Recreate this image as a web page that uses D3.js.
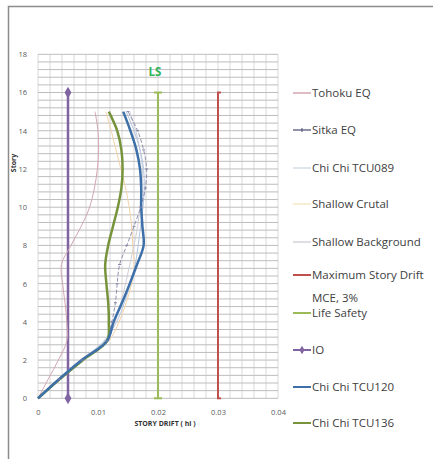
<!DOCTYPE html>
<html><head><meta charset="utf-8">
<script src="https://cdn.jsdelivr.net/npm/d3@7"></script>
<style>body{margin:0;background:#fff;} svg{display:block;}</style>
</head><body>
<svg id="c" width="433" height="459"></svg>
<script>
const stories = [0,1,2,3,4,5,6,7,8,9,10,11,12,13,14,15];
const tohoku   = [0,0.0017,0.0034,0.0048,0.0048,0.0045,0.0041,0.0039,0.0055,0.0072,0.0086,0.0094,0.0099,0.0101,0.0100,0.0095];
const sitka    = [0,0.0035,0.0074,0.0114,0.0123,0.0129,0.0132,0.0136,0.0148,0.0160,0.0171,0.0179,0.0181,0.0176,0.0166,0.0150];
const tcu089   = [0,0.0035,0.0072,0.0110,0.0131,0.0144,0.0154,0.0162,0.0167,0.0171,0.0175,0.0177,0.0176,0.0170,0.0160,0.0147];
const crustal  = [0,0.0036,0.0075,0.0118,0.0135,0.0147,0.0156,0.0160,0.0158,0.0156,0.0152,0.0146,0.0138,0.0130,0.0122,0.0113];
const backgr   = [0,0.0034,0.0070,0.0112,0.0128,0.0138,0.0146,0.0153,0.0160,0.0166,0.0170,0.0173,0.0174,0.0170,0.0163,0.0153];
const tcu120   = [0,0.0035,0.0073,0.0115,0.0126,0.0140,0.0153,0.0165,0.0176,0.0174,0.0172,0.0172,0.0170,0.0164,0.0154,0.0142];
const tcu136   = [0,0.0036,0.0075,0.0115,0.0118,0.0117,0.0114,0.0112,0.0117,0.0125,0.0133,0.0139,0.0141,0.0139,0.0132,0.0118];
const limitStories = [0,16];
const maxDrift = 0.03, lifeSafety = 0.02, ioLimit = 0.005;
const xTicks = [0,0.01,0.02,0.03,0.04];
const yTicks = [0,2,4,6,8,10,12,14,16,18];
const legendLabels = ["Tohoku EQ","Sitka EQ","Chi Chi TCU089","Shallow Crutal","Shallow Background","Maximum Story Drift|MCE, 3%","Life Safety","IO","Chi Chi TCU120","Chi Chi TCU136"];

const svg = d3.select("#c");
const x = d3.scaleLinear().domain([0,0.04]).range([38,278]);
const y = d3.scaleLinear().domain([0,18]).range([398.3,54.3]);
const font = "'Open Sans', sans-serif";

// outer border
svg.append("path").attr("d","M8.5,459 L8.5,6.5 L433,6.5").attr("fill","none").attr("stroke","#8c8c8c").attr("stroke-width",1.5);

// grid
const g = svg.append("g");
g.selectAll("line.v").data(d3.range(0,0.04001,0.002)).join("line")
 .attr("x1",d=>x(d)).attr("x2",d=>x(d)).attr("y1",y(0)).attr("y2",y(18))
 .attr("stroke","#d9d9d9").attr("stroke-width",1);
g.selectAll("line.h").data(d3.range(0,18.001,0.4)).join("line")
 .attr("x1",x(0)).attr("x2",x(0.04)).attr("y1",d=>y(d)).attr("y2",d=>y(d))
 .attr("stroke","#bdbdbd").attr("stroke-width",1);

// axes labels
const xa = d3.axisBottom(x).tickValues(xTicks).tickSize(0).tickFormat(d=>d===0?"0":d3.format(".2f")(d));
svg.append("g").attr("transform",`translate(0,${y(0)+8})`).call(xa)
 .call(s=>s.select(".domain").remove())
 .call(s=>s.selectAll("text").attr("font-family",font).attr("font-size",7.5).attr("fill","#595959"));
const ya = d3.axisLeft(y).tickValues(yTicks).tickSize(0).tickPadding(11);
svg.append("g").attr("transform",`translate(${x(0)},0)`).call(ya)
 .call(s=>s.select(".domain").remove())
 .call(s=>s.selectAll("text").attr("font-family",font).attr("font-size",7.5).attr("fill","#595959"));

svg.append("text").attr("x",165).attr("y",426).attr("text-anchor","middle")
 .attr("font-family",font).attr("font-size",7).attr("font-weight","bold").attr("fill","#333").text("STORY DRIFT ( hi )");
svg.append("text").attr("transform","translate(16,163) rotate(-90)").attr("text-anchor","middle")
 .attr("font-family",font).attr("font-size",7).attr("font-weight","bold").attr("fill","#333").text("Story");

// LS label
svg.append("text").attr("x",x(0.0195)).attr("y",y(17.1)+4).attr("text-anchor","middle")
 .attr("font-family",font).attr("font-size",11.5).attr("font-weight","bold").attr("fill","#2fb45a").text("LS");

// limit lines
const vline = (val,color,w)=>svg.append("line").attr("x1",x(val)).attr("x2",x(val))
 .attr("y1",y(limitStories[0])).attr("y2",y(limitStories[1])).attr("stroke",color).attr("stroke-width",w);
vline(maxDrift,"#c0504d",2);
limitStories.forEach(s=>svg.append("line").attr("x1",x(maxDrift)-1).attr("x2",x(maxDrift)+3).attr("y1",y(s)).attr("y2",y(s)).attr("stroke","#c0504d").attr("stroke-width",2));
vline(lifeSafety,"#9bbb59",2);
limitStories.forEach(s=>svg.append("line").attr("x1",x(lifeSafety)-4).attr("x2",x(lifeSafety)+4).attr("y1",y(s)).attr("y2",y(s)).attr("stroke","#9bbb59").attr("stroke-width",2));
vline(ioLimit,"#8064a2",2.5);
limitStories.forEach(s=>svg.append("path").attr("d",d3.symbol(d3.symbolDiamond,40)())
 .attr("transform",`translate(${x(ioLimit)},${y(s)})`).attr("fill","#8064a2"));

// profiles
const line = d3.line().x(d=>x(d[0])).y(d=>y(d[1])).curve(d3.curveCatmullRom.alpha(0.5));
const series = [
 {v:crustal, c:"#f3d3a8", w:1},
 {v:backgr, c:"#cfd0d8", w:1},
 {v:tcu089, c:"#b4c6df", w:1},
 {v:tohoku, c:"#d3a7b1", w:1},
 {v:sitka, c:"#8585a8", w:0.9, dash:"4,2"},
 {v:tcu136, c:"#77933c", w:2.5},
 {v:tcu120, c:"#3d6fa8", w:2.5},
];
series.forEach(s=>{
 const p = svg.append("path").attr("d",line(s.v.map((d,i)=>[d,stories[i]])))
  .attr("fill","none").attr("stroke",s.c).attr("stroke-width",s.w);
 if(s.dash) p.attr("stroke-dasharray",s.dash);
});
// sitka markers
svg.selectAll("line.sm").data(sitka.slice(1)).join("line")
 .attr("x1",d=>x(d)-1.5).attr("x2",d=>x(d)+1.5).attr("y1",(d,i)=>y(stories[i+1])).attr("y2",(d,i)=>y(stories[i+1]))
 .attr("stroke","#8585a8").attr("stroke-width",1);

// legend
const legColors = ["#c98f9c","#4a4a70","#c8d4e4","#f5e3b8","#c8c8d0","#c0504d","#9bbb59","#8064a2","#3d6fa8","#77933c"];
const legY = [93,130,168,204,242,275,313,350,387,423];
const lg = svg.append("g");
legendLabels.forEach((lab,i)=>{
 const yy = legY[i];
 lg.append("line").attr("x1",293).attr("x2",311).attr("y1",yy).attr("y2",yy).attr("stroke",legColors[i]).attr("stroke-width", i>=5?2:1.2);
 if(i===7) lg.append("path").attr("d",d3.symbol(d3.symbolDiamond,22)()).attr("transform",`translate(302,${yy})`).attr("fill","#8064a2");
 if(i===1) lg.append("line").attr("x1",302).attr("x2",302).attr("y1",yy-2).attr("y2",yy+2).attr("stroke","#4a4a70").attr("stroke-width",1);
 const parts = lab.split("|");
 parts.forEach((t,j)=>lg.append("text").attr("x",312).attr("y",yy+4+j*23).attr("font-family",font).attr("font-size",11.5).attr("fill","#404040").text(t));
});
</script>
</body></html>
